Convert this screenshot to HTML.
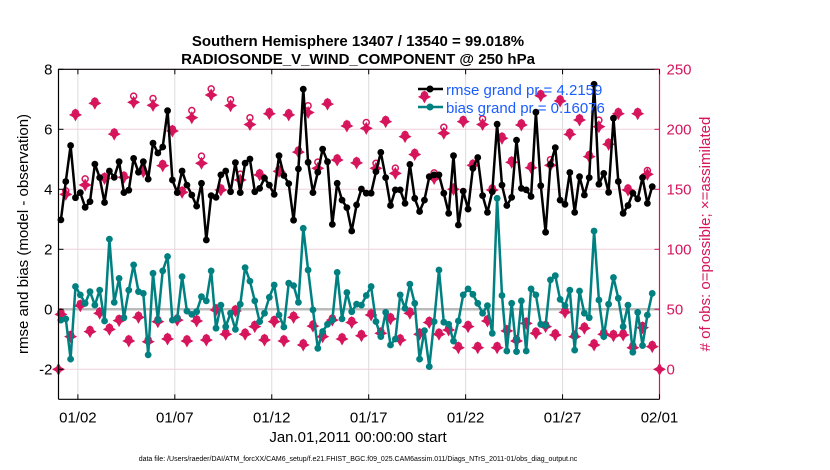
<!DOCTYPE html>
<html><head><meta charset="utf-8"><style>
body{margin:0;background:#fff;}
svg{display:block;font-family:"Liberation Sans",sans-serif;}
</style></head><body>
<svg id="chart" width="830" height="470" viewBox="0 0 830 470" xmlns="http://www.w3.org/2000/svg">
<rect width="830" height="470" fill="#fff"/>
<text x="358" y="46" text-anchor="middle" font-size="15" font-weight="bold">Southern Hemisphere 13407 / 13540 = 99.018%</text>
<text x="358" y="64" text-anchor="middle" font-size="15" font-weight="bold">RADIOSONDE_V_WIND_COMPONENT @ 250 hPa</text>
<g id="grid"></g>
<g id="marks"></g>
<g id="axes"></g>
<text transform="translate(28,234) rotate(-90)" text-anchor="middle" font-size="15">rmse and bias (model - observation)</text>
<text transform="translate(710,234) rotate(-90)" text-anchor="middle" font-size="15" fill="#d6155c"># of obs: o=possible; ×=assimilated</text>
<text x="358" y="442" text-anchor="middle" font-size="15">Jan.01,2011 00:00:00 start</text>
<text x="358" y="461" text-anchor="middle" font-size="7">data file: /Users/raeder/DAI/ATM_forcXX/CAM6_setup/f.e21.FHIST_BGC.f09_025.CAM6assim.011/Diags_NTrS_2011-01/obs_diag_output.nc</text>
<g>
<line x1="418" y1="89" x2="443" y2="89" stroke="#000" stroke-width="2.5"/><circle cx="430" cy="89" r="3.5" fill="#000"/>
<text x="446" y="95" font-size="15" fill="#1a5cff">rmse grand pr = 4.2159</text>
<line x1="418" y1="107" x2="443" y2="107" stroke="#008080" stroke-width="2.5"/><circle cx="430" cy="107" r="3.5" fill="#008080"/>
<text x="446" y="113" font-size="15" fill="#1a5cff">bias grand pr = 0.16076</text>
</g>
</svg>
<script>
const rmse=[2.98,4.26,5.46,3.72,3.89,3.4,3.59,4.84,4.39,3.56,4.61,4.4,4.92,3.89,3.97,5.03,4.57,4.92,4.34,5.54,5.21,5.41,6.62,4.31,3.89,4.61,4.14,3.81,3.44,4.2,2.31,3.79,
3.73,4.48,4.61,3.92,4.89,3.89,4.87,5.01,3.92,4.03,4.37,4.14,3.83,5.12,4.46,4.19,2.97,4.68,7.34,4.9,3.89,4.57,5.34,4.92,2.83,4.2,3.64,3.39,2.61,3.48,4.01,
3.87,3.87,4.59,5.23,4.39,3.46,3.98,3.98,3.53,4.83,3.7,3.26,3.64,4.42,4.48,4.48,3.87,3.2,5.12,2.81,3.94,3.34,4.7,5.06,3.79,3.23,3.92,6.17,4.14,3.46,3.73,5.64,
4.03,3.98,3.76,6.57,4.12,2.57,4.83,5.39,3.64,3.5,4.56,3.23,4.42,3.81,4.39,7.5,4.17,4.53,3.9,6.37,4.26,3.2,3.46,3.87,3.68,4.39,3.53,4.09];
const bias=[-0.36,-0.32,-1.66,0.76,0.48,0.2,0.59,0.14,0.64,-0.39,2.34,0.23,1.03,-0.28,0.64,1.48,0.59,0.53,-1.52,1.2,-0.36,1.28,1.76,-0.36,-0.3,1.09,-0.06,-0.17,-0.08,0.42,0.28,1.28,
-0.63,0.14,-0.58,-0.13,-0.67,0.17,1.39,0.94,0.28,-0.41,-0.13,0.4,0.81,-0.19,-0.59,0.87,0.79,0.23,2.7,1.31,-0.02,-1.3,-0.74,-0.5,-0.36,1.23,-0.32,0.56,-0.08,0.17,0.14,
0.46,0.76,-0.41,-0.91,-0.1,-1.19,-0.99,0.48,0.03,0.84,0.2,-1.66,-0.71,-1.91,-0.41,1.31,-0.43,-0.5,-1.06,-0.39,0.48,0.68,0.5,0.2,-0.13,0.12,-0.8,3.7,0.46,
-1.39,0.2,-1.41,0.28,-1.39,0.68,0.48,-0.5,-0.54,0.98,1.12,0.33,0.12,0.64,-1.36,0.61,-0.13,-0.28,2.61,0.31,-0.91,0.17,1.06,0.37,-0.58,0.14,-1.43,-0.1,-1.21,-0.19,0.53];
const nAssim=[45.8,145.8,27.2,212,53,153.6,31.4,221.7,46.7,159,33.3,196,40.6,160,23.6,222.5,43.3,164.7,23,220,39.7,169.7,25.3,198.6,41,147.5,23.6,209.7,40.3,171.7,24.4,228.6,
49.4,149.4,29.2,219.7,48.6,157.8,29.2,204,35.6,162,24.4,213,39.7,165,23.6,212,43.3,181,20.3,214,36,167.5,27.2,221,41,174.4,25.3,202.8,39,172,28,
200.8,45.3,167.5,30,206.4,42,163.3,24.4,193.9,46.7,179,29.2,227,39,159,29.2,196.7,32.8,150,18,206.4,35.6,170,18,204,40.3,149.4,18,192.5,32,172.5,
23.6,203.6,38.3,168,30,228,35.6,170,28.6,223.6,47.5,195.8,27.2,207.8,34.2,177.2,20.3,202.2,29.2,187.5,28,213,28.6,149.4,18,213,34.7,162.5,18.9];
const nPoss=[45.8,147,27.2,212,53,157,31.4,221.7,46.7,159,33.3,196,40.6,160,23.6,226,43.3,164.7,23,224,39.7,169.7,25.3,198.6,41,147.5,23.6,214,40.3,176,24.4,232,
49.4,149.4,29.2,223,48.6,161,29.2,208,35.6,162,24.4,213,39.7,165,23.6,212,43.3,181,20.3,218,36,171,27.2,221,41,174.4,25.3,202.8,39,172,28,
204,45.3,170,30,206.4,42,166,24.4,193.9,46.7,179,29.2,227,39,162,29.2,200,32.8,150,18,206.4,35.6,170,18,207,40.3,149.4,18,192.5,32,172.5,
23.6,203.6,38.3,168,30,228,35.6,173,28.6,223.6,47.5,195.8,27.2,207.8,34.2,177.2,20.3,206,29.2,187.5,28,213,28.6,149.4,18,213,34.7,164,18.9];
const edgeCounts=[0,0];
const leftTicks=[8,6,4,2,0,-2];
const rightTicks=[250,200,150,100,50,0];
const dateTicks=[1,6,11,16,21,26,31];
const dateLabels=["01/02","01/07","01/12","01/17","01/22","01/27","02/01"];

const NS="http://www.w3.org/2000/svg";
const X0=58.5,X1=659.5,Y0=69.3,Y1=399.3;
const xDay=d=>X0+(X1-X0)*d/31;
const yL=v=>309.3-30*v;
const yR=c=>369.3-1.2*c;
const tOf=i=>0.125+0.25*i;
function mk(tag,attrs,parent){const e=document.createElementNS(NS,tag);for(const k in attrs)e.setAttribute(k,attrs[k]);parent.appendChild(e);return e;}
const grid=document.getElementById('grid'),marks=document.getElementById('marks'),axes=document.getElementById('axes');

// grid
rightTicks.forEach(c=>{const g=mk('line',{x1:X0,x2:X1,y1:yR(c),y2:yR(c),stroke:'#f2cfdc','stroke-width':1},grid);

});
dateTicks.forEach(d=>{const g=mk('line',{x1:xDay(d),x2:xDay(d),y1:Y0,y2:Y1,stroke:'#dcdcdc','stroke-width':1},grid);

});
const z=mk('line',{x1:X0,x2:X1,y1:yL(0),y2:yL(0),stroke:'#bbb','stroke-width':2.5},grid);



// count markers
function star(cx,cy,parent,name){
  const p=mk('path',{d:`M${cx} ${cy-5}L${cx+1.8} ${cy-1.8}L${cx+5} ${cy}L${cx+1.8} ${cy+1.8}L${cx} ${cy+5}L${cx-1.8} ${cy+1.8}L${cx-5} ${cy}L${cx-1.8} ${cy-1.8}Z`,fill:'#d6155c',stroke:'#d6155c','stroke-width':1.5},parent);
  
  
}
nPoss.forEach((c,i)=>{
  const o=mk('circle',{cx:xDay(tOf(i)),cy:yR(c)-2,r:3,fill:'#fff',stroke:'#d6155c','stroke-width':1.5},marks);
  
  
});
nAssim.forEach((c,i)=>star(xDay(tOf(i)),yR(c),marks,'assimilated-obs-marker'));
star(xDay(0),yR(edgeCounts[0]),marks,'assimilated-obs-marker');
star(xDay(31),yR(edgeCounts[1]),marks,'assimilated-obs-marker');

// series
function series(vals,color,name){
  const pts=vals.map((v,i)=>xDay(tOf(i)).toFixed(1)+','+yL(v).toFixed(1)).join(' ');
  const pl=mk('polyline',{points:pts,fill:'none',stroke:color,'stroke-width':2.5,'stroke-linejoin':'round'},marks);
  
  
  vals.forEach((v,i)=>{const c=mk('circle',{cx:xDay(tOf(i)),cy:yL(v),r:3.4,fill:color},marks);
    
    });
}
series(bias,'#008080','bias');
series(rmse,'#000000','rmse');

// axes
const fr=[['M'+X0+' '+Y1+'V'+Y0+'H'+X1,'#000'],['M'+X0+' '+Y1+'H'+X1,'#000'],['M'+X1+' '+Y0+'V'+Y1,'#d6155c']];
fr.forEach(f=>{const p=mk('path',{d:f[0],fill:'none',stroke:f[1],'stroke-width':1.2},axes);

});
leftTicks.forEach(v=>{
  mk('line',{x1:X0,x2:X0+5,y1:yL(v),y2:yL(v),stroke:'#000'},axes);
  const t=mk('text',{x:X0-6,y:yL(v)+5,'text-anchor':'end','font-size':15},axes);t.textContent=v;
  
  
});
rightTicks.forEach(c=>{
  mk('line',{x1:X1-5,x2:X1,y1:yR(c),y2:yR(c),stroke:'#d6155c'},axes);
  const t=mk('text',{x:X1+7,y:yR(c)+5,'font-size':15,fill:'#d6155c'},axes);t.textContent=c;
  
  
});
dateTicks.forEach((d,k)=>{
  mk('line',{x1:xDay(d),x2:xDay(d),y1:Y1,y2:Y1-5,stroke:'#000'},axes);
  mk('line',{x1:xDay(d),x2:xDay(d),y1:Y0,y2:Y0+5,stroke:'#000'},axes);
  const t=mk('text',{x:xDay(d),y:Y1+23,'text-anchor':'middle','font-size':15},axes);t.textContent=dateLabels[k];
  
  
});
</script>
</body></html>
